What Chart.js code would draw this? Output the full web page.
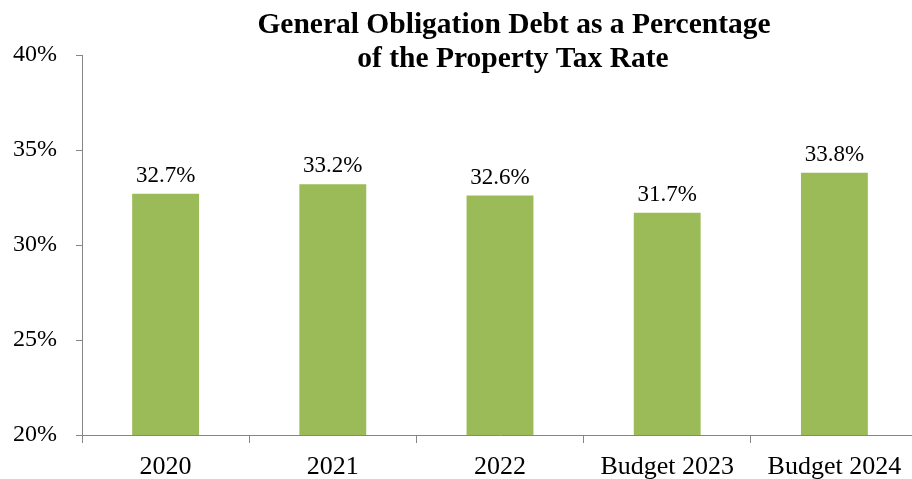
<!DOCTYPE html>
<html>
<head>
<meta charset="utf-8">
<script src="https://cdn.jsdelivr.net/npm/chart.js@4"></script>
<style>
  html, body { margin: 0; padding: 0; background: #fff; overflow: hidden; }
  canvas { display: block; }
</style>
</head>
<body>
<canvas id="debtChart" width="920" height="479"></canvas>
<script>
const categories = ['2020', '2021', '2022', 'Budget 2023', 'Budget 2024'];
const debtPercent = [32.7, 33.2, 32.6, 31.7, 33.8];
const titleLines = ['General Obligation Debt as a Percentage', 'of the Property Tax Rate'];

const serif = '"Liberation Serif", "Times New Roman", serif';
const axisGray = '#868686';

// título desenhado por cima da área do gráfico
const titlePlugin = {
  id: 'titleText',
  afterDraw(chart) {
    const c = chart.ctx;
    c.save();
    c.font = 'bold 29.5px ' + serif;
    c.fillStyle = '#000';
    c.textAlign = 'center';
    c.textBaseline = 'alphabetic';
    c.fillText(titleLines[0], 514, 33);
    c.fillText(titleLines[1], 513, 67);
    c.restore();
  }
};

// rótulos de valor acima das barras
const valueLabels = {
  id: 'valueLabels',
  afterDatasetsDraw(chart) {
    const c = chart.ctx;
    const meta = chart.getDatasetMeta(0);
    c.save();
    c.font = '23px ' + serif;
    c.fillStyle = '#000';
    c.textAlign = 'center';
    c.textBaseline = 'alphabetic';
    meta.data.forEach((bar, i) => {
      c.fillText(debtPercent[i].toFixed(1) + '%', bar.x, bar.y - 12);
    });
    c.restore();
  }
};

const ctx = document.getElementById('debtChart').getContext('2d');

new Chart(ctx, {
  type: 'bar',
  data: {
    labels: categories,
    datasets: [{
      data: debtPercent,
      backgroundColor: '#9BBB59',
      borderWidth: 0,
      categoryPercentage: 1,
      barPercentage: 0.4
    }]
  },
  options: {
    responsive: false,
    animation: false,
    layout: { padding: { top: 55, right: 2, left: 0, bottom: 0 } },
    plugins: {
      legend: { display: false },
      tooltip: { enabled: false }
    },
    scales: {
      x: {
        offset: true,
        afterFit(scale) { scale.height = 44; },
        grid: {
          offset: true,
          drawOnChartArea: false,
          drawTicks: true,
          tickLength: 8,
          color: axisGray
        },
        border: { color: axisGray, width: 1 },
        ticks: {
          color: '#000',
          font: { family: serif, size: 26, lineHeight: 1.2 },
          padding: 9,
          maxRotation: 0
        }
      },
      y: {
        min: 20,
        max: 40,
        afterFit(scale) { scale.width = 82; },
        grid: {
          drawOnChartArea: false,
          drawTicks: true,
          tickLength: 6,
          color: axisGray
        },
        border: { color: axisGray, width: 1 },
        ticks: {
          stepSize: 5,
          color: '#000',
          font: { family: serif, size: 24 },
          padding: 19,
          callback: v => v + '%'
        }
      }
    }
  },
  plugins: [titlePlugin, valueLabels]
});
</script>
</body>
</html>
